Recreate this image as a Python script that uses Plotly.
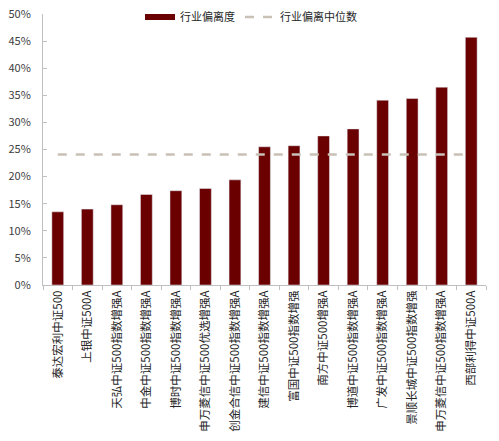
import plotly.graph_objects as go

categories = [
    "泰达宏利中证500", "上银中证500A", "天弘中证500指数增强A", "中金中证500指数增强A",
    "博时中证500指数增强A", "申万菱信中证500优选增强A", "创金合信中证500指数增强A",
    "建信中证500指数增强A", "富国中证500指数增强", "南方中证500增强A",
    "博道中证500指数增强A", "广发中证500指数增强A", "景顺长城中证500指数增强",
    "申万菱信中证500指数增强A", "西部利得中证500A",
]
deviation = [0.135, 0.140, 0.148, 0.167, 0.174, 0.178, 0.194, 0.255, 0.257, 0.275,
             0.288, 0.341, 0.344, 0.365, 0.457]
median_value = 0.241
median_series = [median_value] * len(categories)

bar_color = "#6B0000"
median_color = "#C9C0B6"
font_family = "Noto Sans CJK SC"

fig = go.Figure()
fig.add_trace(go.Bar(x=categories, y=deviation, marker_color=bar_color,
                     name="行业偏离度", showlegend=False))
fig.add_trace(go.Scatter(x=[None], y=[None], mode="lines", name="行业偏离度",
                         line=dict(color=bar_color, width=6)))
fig.add_trace(go.Scatter(x=categories, y=median_series, mode="lines", name="行业偏离中位数",
                         line=dict(color=median_color, width=2.5, dash="dash")))

fig.update_layout(
    width=499, height=441,
    margin=dict(l=43, r=13, t=14, b=156, autoexpand=False),
    paper_bgcolor="white", plot_bgcolor="white",
    font=dict(family=font_family, size=11, color="#404040"),
    bargap=0.6,
    legend=dict(orientation="h", x=0.219, y=0.989, xanchor="left", yanchor="middle",
                bgcolor="rgba(0,0,0,0)", font=dict(size=11, color="#262626"),
                itemwidth=30, tracegroupgap=0),
    xaxis=dict(showline=True, linecolor="#BFBFBF", linewidth=1,
               ticks="outside", ticklen=4, tickcolor="#BFBFBF",
               tickson="boundaries", tickangle=-90, showgrid=False, automargin=False,
               tickfont=dict(size=11.5, color="#262626")),
    yaxis=dict(range=[0, 0.5], dtick=0.05, tickformat=".0%",
               showline=True, linecolor="#BFBFBF", linewidth=1,
               ticks="inside", ticklen=4, tickcolor="#BFBFBF",
               ticklabelstandoff=9, ticklabeloverflow="allow",
               showgrid=False, zeroline=False, automargin=False,
               tickfont=dict(size=11, color="#404040")),
)

fig.write_html("out.html", config={"displayModeBar": False},
               post_script="document.body.style.margin='0';document.body.style.overflow='hidden';")
